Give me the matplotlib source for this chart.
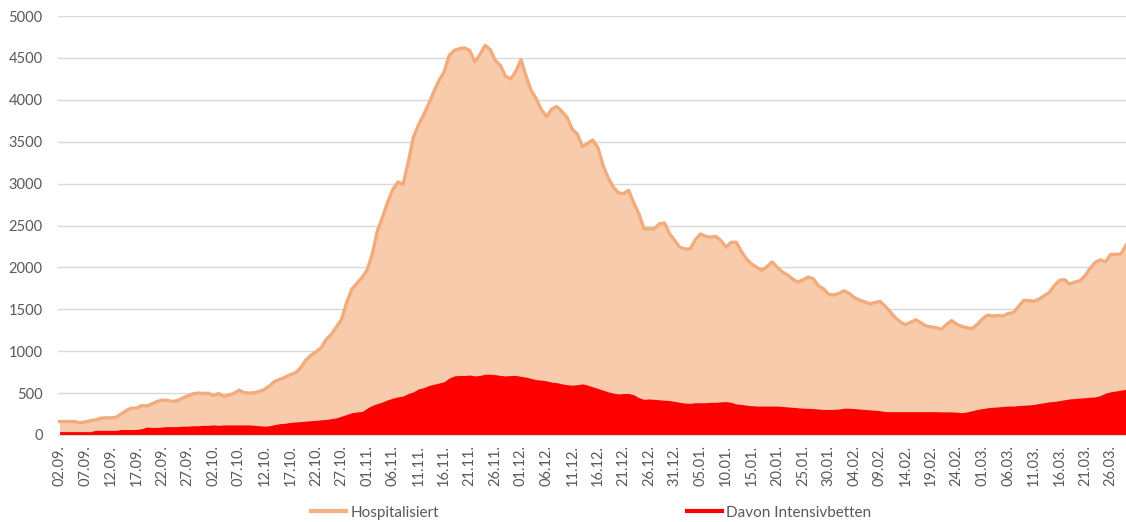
import datetime as dt
import numpy as np
import matplotlib
matplotlib.use("Agg")
import matplotlib.pyplot as plt
from matplotlib.lines import Line2D

# daily values 02.09. - 29.03.
start_date = dt.date(2020, 9, 2)

hospitalisiert = [
    160, 160, 160, 160, 145, 155, 170, 180, 200, 205,
    205, 210, 250, 290, 320, 320, 350, 345, 370, 400,
    415, 415, 400, 410, 440, 465, 490, 500, 495, 500,
    470, 495, 460, 475, 495, 535, 505, 500, 505, 520,
    545, 590, 640, 665, 690, 720, 740, 800, 890, 950,
    990, 1040, 1140, 1200, 1290, 1380, 1580, 1740, 1810, 1880,
    1970, 2160, 2440, 2600, 2780, 2930, 3020, 2990, 3250, 3550,
    3700, 3820, 3950, 4100, 4230, 4330, 4530, 4590, 4610, 4620,
    4590, 4450, 4540, 4650, 4600, 4470, 4410, 4280, 4250, 4340,
    4480, 4280, 4110, 4010, 3880, 3800, 3890, 3920, 3860, 3790,
    3650, 3590, 3440, 3480, 3520, 3430, 3220, 3070, 2960, 2890,
    2880, 2920, 2770, 2640, 2460, 2460, 2460, 2520, 2530, 2400,
    2320, 2240, 2220, 2220, 2330, 2400, 2370, 2360, 2370, 2320,
    2240, 2300, 2300, 2190, 2100, 2040, 2000, 1965, 2010, 2065,
    2000, 1945, 1910, 1860, 1825, 1850, 1885, 1865, 1780, 1745,
    1680, 1670, 1690, 1720, 1690, 1640, 1610, 1590, 1565, 1580,
    1595, 1540, 1470, 1400, 1350, 1315, 1345, 1375, 1340, 1300,
    1290, 1280, 1260, 1320, 1365, 1320, 1295, 1280, 1270, 1320,
    1385, 1430, 1420, 1425, 1420, 1450, 1460, 1530, 1605, 1605,
    1595, 1620, 1660, 1700, 1780, 1845, 1855, 1800, 1825, 1840,
    1900, 1990, 2060, 2090, 2065, 2155, 2155, 2160, 2265,
]

intensivbetten = [
    40, 40, 40, 40, 40, 40, 40, 55, 55, 55,
    55, 55, 65, 65, 65, 65, 75, 95, 90, 90,
    95, 100, 100, 100, 105, 105, 110, 110, 115, 115,
    120, 115, 120, 120, 120, 120, 120, 120, 115, 110,
    105, 110, 125, 135, 140, 150, 155, 160, 165, 170,
    175, 180, 185, 195, 205, 225, 245, 265, 275, 280,
    320, 355, 375, 395, 420, 440, 455, 465, 495, 515,
    550, 565, 590, 605, 620, 635, 680, 705, 710, 710,
    715, 705, 710, 725, 725, 720, 710, 705, 710, 710,
    700, 690, 675, 660, 655, 645, 630, 625, 610, 600,
    595, 600, 610, 595, 575, 555, 535, 515, 500, 490,
    495, 495, 480, 445, 425, 430, 425, 420, 415, 410,
    400, 390, 380, 378, 385, 385, 385, 390, 390, 395,
    398, 390, 370, 365, 355, 350, 345, 345, 345, 345,
    345, 340, 335, 330, 325, 320, 318, 315, 310, 305,
    305, 305, 310, 320, 320, 315, 310, 305, 300, 295,
    290, 280, 278, 278, 278, 278, 278, 278, 278, 278,
    278, 278, 276, 276, 275, 272, 266, 275, 290, 305,
    315, 325, 330, 335, 340, 345, 345, 350, 355, 358,
    365, 375, 385, 395, 400, 410, 420, 430, 435, 440,
    445, 450, 455, 470, 500, 515, 525, 535, 545,
]

dates = [start_date + dt.timedelta(days=i) for i in range(len(hospitalisiert))]
labels = [d.strftime("%d.%m.") for d in dates]

plt.rcParams['font.family'] = ['Lato', 'DejaVu Sans']
grey = '#595959'

fig = plt.figure(figsize=(11.26, 5.22), dpi=100)
ax = fig.add_axes([0.0515, 0.1667, 0.9485, 0.8026])

x = np.arange(len(hospitalisiert))
ax.fill_between(x, 0, hospitalisiert, color='#F7CBAC', lw=0, zorder=2)
ax.plot(x, hospitalisiert, color='#F2AC7C', lw=2.4, solid_joinstyle='round', zorder=3)
ax.fill_between(x, 0, intensivbetten, color='#FF0000', lw=0, zorder=4)

ax.set_ylim(0, 5000)
ax.set_xlim(-0.3, len(x) - 1)
ax.set_yticks(range(0, 5001, 500))
ax.set_xticks(x[::5])
ax.set_xticklabels(labels[::5], rotation=90)

ax.grid(axis='y', color='#D9D9D9', lw=1, zorder=0)
ax.set_axisbelow(True)
for s in ['top', 'right', 'left']:
    ax.spines[s].set_visible(False)
ax.spines['bottom'].set_color('#D9D9D9')
ax.spines['bottom'].set_zorder(5)
ax.tick_params(axis='y', length=0, pad=11, labelsize=10.5, labelcolor=grey)
ax.tick_params(axis='x', length=0, pad=7, labelsize=10.5, labelcolor=grey)

handles = [Line2D([], [], color='#F4B183', lw=3),
           Line2D([], [], color='#FF0000', lw=3)]
fig.legend(handles, ['Hospitalisiert', 'Davon Intensivbetten'], loc='center',
           bbox_to_anchor=(0.525, 0.018), ncol=2, frameon=False, fontsize=11,
           labelcolor=grey, handlelength=2.3, handletextpad=0.3, columnspacing=16.2)

fig.savefig('out.png', dpi=100)
